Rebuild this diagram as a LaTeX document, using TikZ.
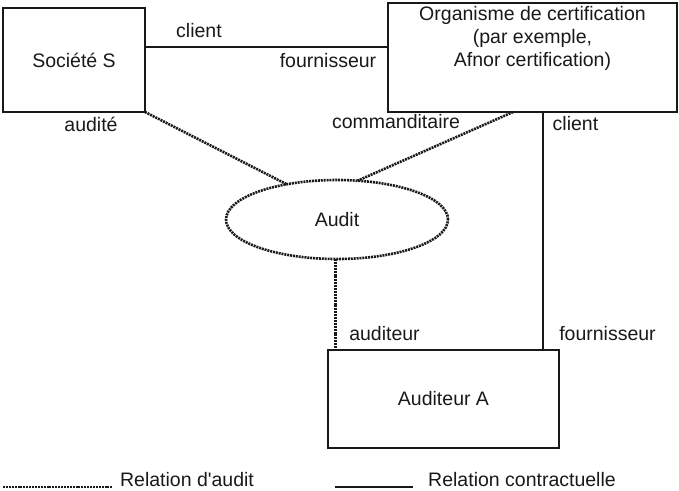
\documentclass[tikz,border=0pt]{standalone}
\usepackage{fontspec}
\setmainfont{Liberation Sans}
\usetikzlibrary{shapes.geometric}
\definecolor{ink}{RGB}{25,25,25}
\begin{document}
\begin{tikzpicture}[x=1pt,y=-1pt,
  every node/.style={font=\fontsize{19.5}{23}\selectfont, text=ink},
  entity/.style={draw=ink, line width=2.2pt, rectangle, inner sep=0pt, outer sep=0pt},
  contract/.style={draw=ink, line width=2.1pt},
  auditrel/.style={draw=ink, line width=2.6pt, dash pattern=on 2pt off 0.9pt},
  lbl/.style={anchor=base, inner sep=0pt}]
\useasboundingbox (0,0) rectangle (679,490);

% entities
\node[entity, minimum width=142pt, minimum height=104pt] (soc) at (74,60) {Société S};
\node[entity, minimum width=289pt, minimum height=109pt] (org) at (532.5,57.5) {};
\node[align=center, anchor=north, inner sep=0pt] (orgtxt) at (532.5,6)
  {Organisme de certification\\(par exemple,\\Afnor certification)};
\node[entity, minimum width=231pt, minimum height=98pt] (aud) at (443.5,399) {Auditeur A};
\node[ellipse, auditrel, minimum width=222pt, minimum height=79pt, inner sep=0pt, outer sep=0pt]
  (audit) at (337,219.5) {Audit};

% contractual relations
\draw[contract] ([yshift=13pt]soc.east) -- ([yshift=13pt]soc.east -| org.west);
\draw[contract] ([xshift=10.5pt]org.south) -- ([xshift=10.5pt]org.south |- aud.north);

% audit relations
\draw[auditrel] (soc.south east) -- (audit.145);
\draw[auditrel] ([xshift=-19.5pt]org.south) -- (audit.62);
\draw[auditrel] (audit.268) -- (audit.268 |- aud.north);

% role labels
\node[lbl] (l1) at (199,37) {client};
\node[lbl] (l2) at (328,67) {fournisseur};
\node[lbl] (l3) at (91,131) {audité};
\node[lbl] (l4) at (396,128) {commanditaire};
\node[lbl] (l5) at (575.5,130) {client};
\node[lbl] (l6) at (384.5,340) {auditeur};
\node[lbl] (l7) at (607.5,340) {fournisseur};

% legend
\coordinate (ka) at (3,487);
\coordinate (kb) at (112,487);
\coordinate (kc) at (335,487);
\coordinate (kd) at (413,487);
\draw[auditrel] (ka) -- (kb);
\draw[contract] (kc) -- (kd);
\node[lbl] (t1) at (187,486) {Relation d\textquotesingle audit};
\node[lbl] (t2) at (522,486) {Relation contractuelle};
\end{tikzpicture}
\end{document}
